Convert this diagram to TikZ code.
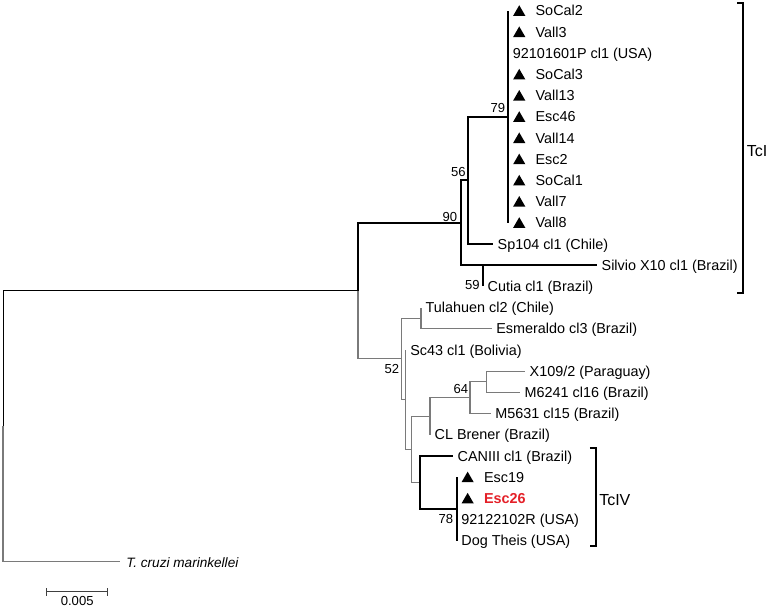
\documentclass[tikz,border=0pt]{standalone}
\usepackage{fontspec}
\setmainfont{Liberation Sans}
\usetikzlibrary{shapes.geometric}
\definecolor{escred}{RGB}{228,32,40}

\begin{document}
\begin{tikzpicture}[x=0.75pt,y=-0.75pt]
  \tikzset{br/.style={draw=black!52,line width=0.8pt},
    brb/.style={draw=black,line width=1.4pt},
    brk/.style={draw=black,line width=0.75pt},
    tip/.style={anchor=base west,inner sep=0,xshift=3.3pt,yshift=-3.9pt,font=\fontsize{10.8}{13}\selectfont},
    tiptri/.style={tip,xshift=17pt},
    tri/.style={regular polygon,regular polygon sides=3,fill=black,inner sep=0,minimum size=10.6pt,xshift=8.2pt,yshift=-1.2pt},
    boot/.style={anchor=east,inner sep=0,font=\fontsize{9.8}{11}\selectfont},
    clade/.style={draw=black,line width=1.3pt}}
  \useasboundingbox (0,0) rectangle (770,608);
  \coordinate(root) at (3,426.3);
  \coordinate(A) at (358,290.8);
  \coordinate(n90) at (460.7,222.7);
  \coordinate(n56) at (468.3,180.3);
  \coordinate(n79) at (508.3,116.7);
  \coordinate(n59) at (483,265.1);
  \coordinate(B) at (401.7,358.9);
  \coordinate(T) at (421,318.1);
  \coordinate(C) at (405.7,399.6);
  \coordinate(D) at (411.7,449.3);
  \coordinate(E) at (430,416.2);
  \coordinate(n64) at (470,397.6);
  \coordinate(H) at (486.7,381.7);
  \coordinate(F) at (420,482.4);
  \coordinate(n78) at (456.7,508.9);
  \coordinate(t0) at (508.3,10.7);
  \coordinate(t1) at (508.3,31.9);
  \coordinate(t2) at (508.3,53.1);
  \coordinate(t3) at (508.3,74.3);
  \coordinate(t4) at (508.3,95.5);
  \coordinate(t5) at (508.3,116.7);
  \coordinate(t6) at (508.3,137.9);
  \coordinate(t7) at (508.3,159.1);
  \coordinate(t8) at (508.3,180.3);
  \coordinate(t9) at (508.3,201.5);
  \coordinate(t10) at (508.3,222.7);
  \coordinate(t11) at (493,243.9);
  \coordinate(t12) at (597,265.1);
  \coordinate(t13) at (483,286.3);
  \coordinate(t14) at (421,307.5);
  \coordinate(t15) at (491.7,328.7);
  \coordinate(t16) at (405.7,349.9);
  \coordinate(t17) at (525,371.1);
  \coordinate(t18) at (520,392.3);
  \coordinate(t19) at (490.7,413.5);
  \coordinate(t20) at (430,434.7);
  \coordinate(t21) at (453,455.9);
  \coordinate(t22) at (456.7,477.1);
  \coordinate(t23) at (456.7,498.3);
  \coordinate(t24) at (456.7,519.5);
  \coordinate(t25) at (456.7,540.7);
  \coordinate(t26) at (120,561.9);
  \node(m0)[tri] at (t0) {};
  \node(l0)[tiptri] at (t0) {SoCal2};
  \node(m1)[tri] at (t1) {};
  \node(l1)[tiptri] at (t1) {Vall3};
  \node(l2)[tip] at (t2) {92101601P cl1 (USA)};
  \node(m3)[tri] at (t3) {};
  \node(l3)[tiptri] at (t3) {SoCal3};
  \node(m4)[tri] at (t4) {};
  \node(l4)[tiptri] at (t4) {Vall13};
  \node(m5)[tri] at (t5) {};
  \node(l5)[tiptri] at (t5) {Esc46};
  \node(m6)[tri] at (t6) {};
  \node(l6)[tiptri] at (t6) {Vall14};
  \node(m7)[tri] at (t7) {};
  \node(l7)[tiptri] at (t7) {Esc2};
  \node(m8)[tri] at (t8) {};
  \node(l8)[tiptri] at (t8) {SoCal1};
  \node(m9)[tri] at (t9) {};
  \node(l9)[tiptri] at (t9) {Vall7};
  \node(m10)[tri] at (t10) {};
  \node(l10)[tiptri] at (t10) {Vall8};
  \node(l11)[tip] at (t11) {Sp104 cl1 (Chile)};
  \node(l12)[tip] at (t12) {Silvio X10 cl1 (Brazil)};
  \node(l13)[tip] at (t13) {Cutia cl1 (Brazil)};
  \node(l14)[tip] at (t14) {Tulahuen cl2 (Chile)};
  \node(l15)[tip] at (t15) {Esmeraldo cl3 (Brazil)};
  \node(l16)[tip] at (t16) {Sc43 cl1 (Bolivia)};
  \node(l17)[tip] at (t17) {X109/2 (Paraguay)};
  \node(l18)[tip] at (t18) {M6241 cl16 (Brazil)};
  \node(l19)[tip] at (t19) {M5631 cl15 (Brazil)};
  \node(l20)[tip] at (t20) {CL Brener (Brazil)};
  \node(l21)[tip] at (t21) {CANIII cl1 (Brazil)};
  \node(m22)[tri] at (t22) {};
  \node(l22)[tiptri] at (t22) {Esc19};
  \node(m23)[tri] at (t23) {};
  \node(l23)[tiptri,text=escred,font=\fontsize{10.8}{13}\selectfont\bfseries] at (t23) {Esc26};
  \node(l24)[tip] at (t24) {92122102R (USA)};
  \node(l25)[tip] at (t25) {Dog Theis (USA)};
  \node(l26)[tip,xshift=1.2pt,font=\fontsize{10.2}{12}\selectfont\itshape] at (t26) {T. cruzi marinkellei};
  \node(b79)[boot] at (505.5,107.5) {79};
  \node(b56)[boot] at (466,171.7) {56};
  \node(b90)[boot] at (457.5,216.5) {90};
  \node(b59)[boot] at (480,285) {59};
  \node(b52)[boot] at (399.5,369) {52};
  \node(b64)[boot] at (468.5,389) {64};
  \node(b78)[boot] at (453.5,519) {78};
  \draw[brk] (root) |- (A);
  \draw[br] (root) |- (t26);
  \draw[brb] (A) |- (n90);
  \draw[br] (A) |- (B);
  \draw[brb] (n90) |- (n56);
  \draw[brb] (n90) |- (n59);
  \draw[brb] (n56) |- (n79);
  \draw[brb] (n56) |- (t11);
  \draw[brb] (n79) |- (t0);
  \draw[brb] (n79) |- (t10);
  \draw[brb] (n59) |- (t12);
  \draw[brb] (n59) |- (t13);
  \draw[br] (B) |- (T);
  \draw[br] (B) |- (C);
  \draw[br] (T) |- (t14);
  \draw[br] (T) |- (t15);
  \draw[br] (C) |- (t16);
  \draw[br] (C) |- (D);
  \draw[br] (D) |- (E);
  \draw[br] (D) |- (F);
  \draw[br] (E) |- (n64);
  \draw[br] (E) |- (t20);
  \draw[br] (n64) |- (H);
  \draw[br] (n64) |- (t19);
  \draw[br] (H) |- (t17);
  \draw[br] (H) |- (t18);
  \draw[brb] (F) |- (t21);
  \draw[brb] (F) |- (n78);
  \draw[brb] (n78) |- (t22);
  \draw[brb] (n78) |- (t25);
  \coordinate(tcItop) at (743.3,3.3);
  \coordinate(tcIbot) at (743.3,293);
  \draw[clade] ([xshift=-4.6pt]tcItop) -- (tcItop) -- (tcIbot) -- ([xshift=-4.6pt]tcIbot);
  \node(tcI)[anchor=west,inner sep=0,font=\fontsize{12}{14}\selectfont] at (746.5,151.5) {TcI};
  \coordinate(tcIVtop) at (596,447.7);
  \coordinate(tcIVbot) at (596,546);
  \draw[clade] ([xshift=-4.6pt]tcIVtop) -- (tcIVtop) -- (tcIVbot) -- ([xshift=-4.6pt]tcIVbot);
  \node(tcIV)[anchor=west,inner sep=0,font=\fontsize{12}{14}\selectfont] at (599,500.5) {TcIV};
  \coordinate(sb0) at (46.7,591.7);
  \coordinate(sb1) at (107.7,591.7);
  \draw[draw=black!75,line width=0.75pt] (sb0) -- (sb1);
  \draw[draw=black!75,line width=0.75pt] ([yshift=-3pt]sb0) -- ([yshift=3pt]sb0);
  \draw[draw=black!75,line width=0.75pt] ([yshift=-3pt]sb1) -- ([yshift=3pt]sb1);
  \node(sbl)[anchor=north,inner sep=0,font=\fontsize{9.8}{11}\selectfont] at (77.2,596.5) {0.005};
\end{tikzpicture}
\end{document}
